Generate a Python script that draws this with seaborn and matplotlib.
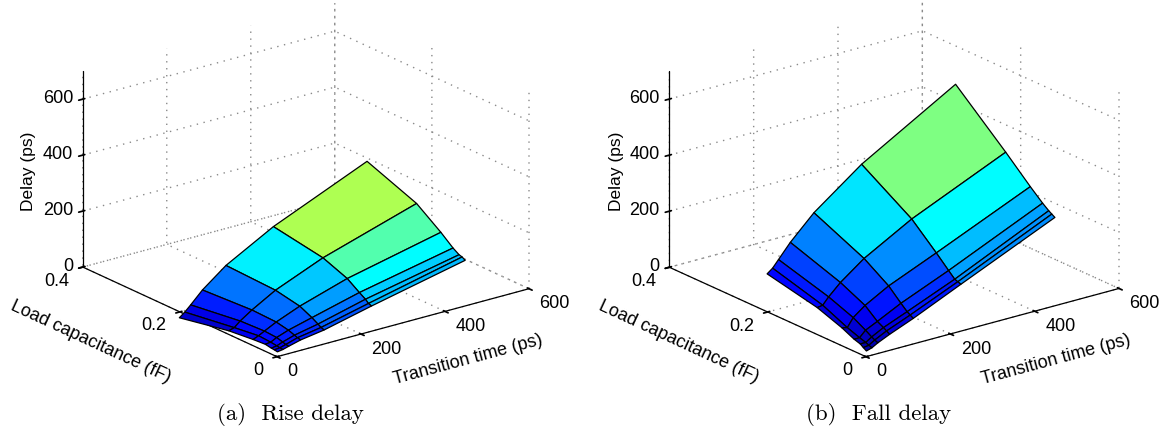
# Rise and fall delay surfaces, delay vs transition time and load capacitance.

import matplotlib.pyplot as plt
import numpy as np
import seaborn as sns
from matplotlib.colors import LinearSegmentedColormap, Normalize
from mpl_toolkits.mplot3d import proj3d

transition = [1, 14, 28, 56, 112, 225, 448]
load = [0, 0.00625, 0.0125, 0.025, 0.05, 0.1, 0.202]

rise = [
    [17, 20, 26, 37, 50, 90, 163],
    [19, 21, 27, 40, 54, 94, 170],
    [20, 23, 31, 44, 61, 104, 173],
    [24, 26, 37, 52, 74, 118, 187],
    [21, 29, 40, 61, 95, 148, 223],
    [12, 18, 36, 64, 112, 182, 286],
    [-23, -8, 12, 54, 119, 212, 355],
]
fall = [
    [20, 26, 38, 57, 91, 167, 315],
    [27, 30, 43, 64, 98, 171, 322],
    [35, 35, 49, 71, 105, 175, 329],
    [42, 42, 63, 83, 125, 196, 346],
    [63, 58, 88, 120, 167, 239, 385],
    [95, 98, 122, 162, 225, 320, 468],
    [134, 149, 174, 224, 307, 434, 629],
]

x_ticks = [0, 200, 400, 600]
y_ticks = [0, 0.2, 0.4]
y_tick_labels = ["0", "0.2", "0.4"]
z_ticks = [0, 200, 400, 600]

WIDTH, HEIGHT = 1167, 434

sns.set_theme(
    style="whitegrid",
    rc={
        "grid.color": "#8a8a8a",
        "grid.linestyle": (0, (1, 4)),
        "grid.linewidth": 1.0,
        "axes.edgecolor": "black",
        "axes.linewidth": 0.9,
        "text.color": "black",
        "xtick.color": "black",
        "ytick.color": "black",
        "axes.labelcolor": "black",
    },
)
plt.rcParams["font.family"] = ["Liberation Sans", "DejaVu Sans"]

# matlab's jet, matplotlib's own has a narrower cyan
jet = LinearSegmentedColormap.from_list(
    "matlab_jet",
    [
        (0.0, (0, 0, 0.5)),
        (0.125, (0, 0, 1)),
        (0.375, (0, 1, 1)),
        (0.625, (1, 1, 0)),
        (0.875, (1, 0, 0)),
        (1.0, (0.5, 0, 0)),
    ],
)

fig = plt.figure(figsize=(WIDTH / 100, HEIGHT / 100), dpi=100)


def project(ax, x, y, z):
    xs, ys, _ = proj3d.proj_transform(x, y, z, ax.get_proj())
    return ax.transData.transform((xs, ys))


def place(ax, aspect, origin, x_span):
    # scale and shift the 3D box so its origin lands on the wanted pixel
    ax.set_box_aspect(aspect)
    fig.canvas.draw()
    measured = project(ax, 600, 0, 0)[0] - project(ax, 0, 0, 0)[0]
    ax.set_box_aspect(aspect, zoom=x_span / measured)
    fig.canvas.draw()
    p0 = project(ax, 0, 0, 0)
    pos = ax.get_position()
    ax.set_position(
        [
            pos.x0 + (origin[0] - p0[0]) / WIDTH,
            pos.y0 + (HEIGHT - origin[1] - p0[1]) / HEIGHT,
            pos.width,
            pos.height,
        ]
    )


def draw_panel(values, norm, left, view, aspect, origin, span, caption, caption_x, offset):
    ax = fig.add_axes([left, 0.0, 500 / WIDTH, 500 / HEIGHT], projection="3d")
    ax.patch.set_alpha(0)
    ax.set_proj_type("ortho")
    ax.view_init(elev=view[0], azim=view[1])

    X, Y = np.meshgrid(transition, load)
    Z = np.array(values, dtype=float)
    # each cell takes its colour from its highest corner
    colors = jet(norm(Z[1:, 1:]))
    ax.plot_surface(
        X, Y, Z, facecolors=colors, rstride=1, cstride=1, shade=False,
        edgecolor="black", linewidth=0.9, antialiased=True,
    )

    ax.set_xlim(0, 600, view_margin=0)
    ax.set_ylim(0, 0.4, view_margin=0)
    ax.set_zlim(0, 700, view_margin=0)
    ax.set_xticks(x_ticks)
    ax.set_yticks(y_ticks)
    ax.set_yticklabels(y_tick_labels)
    ax.set_zticks(z_ticks)
    ax.tick_params(labelsize=13, pad=2)
    ax.tick_params(axis="z", pad=-4)
    for axis in (ax.xaxis, ax.yaxis, ax.zaxis):
        axis.pane.set_visible(False)

    place(ax, aspect, origin, span)

    plt.setp(ax.get_xticklabels(), ha="left", va="center")
    plt.setp(ax.get_yticklabels(), ha="right", va="center")
    plt.setp(ax.get_zticklabels(), ha="right", va="center")

    fig.text(offset + 29 / WIDTH, 1 - 171 / HEIGHT, "Delay (ps)", rotation=90,
             ha="center", va="center", fontsize=12.5)
    fig.text(offset + 90.7 / WIDTH, 1 - 342 / HEIGHT, "Load capacitance (fF)", rotation=-24.8,
             rotation_mode="anchor", ha="center", va="center", fontsize=13)
    fig.text(offset + 468.5 / WIDTH, 1 - 360 / HEIGHT, "Transition time (ps)", rotation=15.1,
             rotation_mode="anchor", ha="center", va="center", fontsize=13)
    fig.text(caption_x / WIDTH, 1 - 415 / HEIGHT, caption, family="cmr10",
             ha="center", va="center", fontsize=16.5)


draw_panel(rise, Normalize(-67, 708), 0.0, (20.66, -127.4), (317.4, 320, 209.5),
           (277, 356.7), 252, "(a)  Rise delay", 290, 0)
draw_panel(fall, Normalize(-25, 1290), 0.5, (20.5, -127.6), (319, 322, 209.3),
           (866, 356.7), 253, "(b)  Fall delay", 879, 588 / WIDTH)

plt.savefig("out.png", dpi=100)
